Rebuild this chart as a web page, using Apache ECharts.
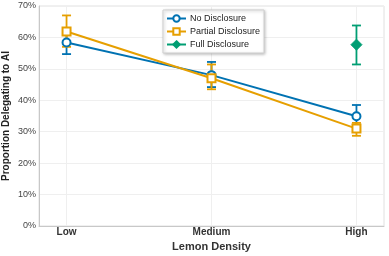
<!DOCTYPE html>
<html><head><meta charset="utf-8">
<script src="https://cdn.jsdelivr.net/npm/echarts@6/dist/echarts.min.js"></script>
<style>html,body{margin:0;padding:0;background:#fff}#c{width:389px;height:256px}</style>
</head><body><div id="c"></div>
<script>
const categories = ['Low', 'Medium', 'High'];
const yTicks = [0, 10, 20, 30, 40, 50, 60, 70];
const noDisc = [58.4, 48.0, 34.9];
const noDiscLo = [54.7, 44.2, 31.5];
const noDiscHi = [62.0, 52.2, 38.5];
const partial = [61.9, 47.0, 31.0];
const partialLo = [57.0, 43.5, 28.7];
const partialHi = [67.0, 51.4, 32.8];
const full = [null, null, 57.7];
const fullLo = [null, null, 51.4];
const fullHi = [null, null, 63.8];

const BLUE = '#0072B2', ORANGE = '#E69F00', GREEN = '#009E73';

function pts(vals) { return vals.map((v, i) => v == null ? null : [i, v]).filter(d => d); }
function errs(lo, hi) { return lo.map((v, i) => v == null ? null : [i, v, hi[i]]).filter(d => d); }

function errSeries(name, lo, hi, color) {
  return {
    type: 'custom', name: name + ' (CI)', z: 1,
    data: errs(lo, hi),
    renderItem: function (params, api) {
      const x = api.value(0);
      const p1 = api.coord([x, api.value(1)]);
      const p2 = api.coord([x, api.value(2)]);
      const w = 4.5;
      const st = { stroke: color, lineWidth: 1.8 };
      return { type: 'group', children: [
        { type: 'line', shape: { x1: p1[0], y1: p1[1], x2: p2[0], y2: p2[1] }, style: st },
        { type: 'line', shape: { x1: p1[0] - w, y1: p1[1], x2: p1[0] + w, y2: p1[1] }, style: st },
        { type: 'line', shape: { x1: p2[0] - w, y1: p2[1], x2: p2[0] + w, y2: p2[1] }, style: st }
      ]};
    },
    silent: true
  };
}

const chart = echarts.init(document.getElementById('c'), null, { renderer: 'canvas' });
chart.setOption({
  animation: false,
  grid: { left: 39, right: 5, top: 6, bottom: 30, show: true, borderColor: '#e0e0e0', borderWidth: 1,
          containLabel: false, outerBoundsMode: 'none' },
  xAxis: {
    type: 'value', min: -0.19, max: 2.19,
    name: 'Lemon Density', nameLocation: 'middle', nameGap: 15, nameMoveOverlap: false,
    nameTextStyle: { fontFamily: 'Liberation Sans', fontWeight: 'bold', fontSize: 11, color: '#333' },
    axisLine: { show: true, onZero: false, lineStyle: { color: '#c8c8c8', width: 1 } },
    axisTick: { show: false, customValues: [0, 1, 2] },
    axisLabel: { customValues: [0, 1, 2], formatter: v => categories[Math.round(v)], margin: 1,
      fontFamily: 'Liberation Sans', fontWeight: 'bold', fontSize: 10, color: '#333' },
    splitLine: { show: true, lineStyle: { color: '#efefef', width: 1 } }
  },
  yAxis: {
    type: 'value', min: 0, max: 70, interval: 10,
    name: 'Proportion Delegating to AI', nameLocation: 'middle', nameGap: 28, nameMoveOverlap: false,
    nameTextStyle: { fontFamily: 'Liberation Sans', fontWeight: 'bold', fontSize: 10, color: '#222' },
    axisLine: { show: true, onZero: false, lineStyle: { color: '#c8c8c8', width: 1 } },
    axisTick: { show: false },
    axisLabel: { formatter: '{value}%', margin: 3, fontFamily: 'Liberation Sans', fontSize: 9, color: '#444' },
    splitLine: { show: true, lineStyle: { color: '#efefef', width: 1 } }
  },
  legend: {
    orient: 'vertical', left: 163, top: 10,
    data: ['No Disclosure', 'Partial Disclosure', 'Full Disclosure'],
    itemWidth: 19, itemHeight: 8, itemGap: 4,
    padding: [4, 4, 4, 3],
    backgroundColor: '#fff', borderColor: '#cfcfcf', borderWidth: 1,
    shadowBlur: 3, shadowColor: 'rgba(0,0,0,0.25)', shadowOffsetX: 1, shadowOffsetY: 1,
    textStyle: { fontFamily: 'Liberation Sans', fontSize: 9, color: '#222', padding: [0, 0, 0, -1] }
  },
  series: [
    errSeries('No Disclosure', noDiscLo, noDiscHi, BLUE),
    errSeries('Partial Disclosure', partialLo, partialHi, ORANGE),
    errSeries('Full Disclosure', fullLo, fullHi, GREEN),
    { name: 'No Disclosure', type: 'line', z: 3, data: pts(noDisc), symbol: 'circle', symbolSize: 8,
      lineStyle: { color: BLUE, width: 2 }, itemStyle: { color: '#fff', borderColor: BLUE, borderWidth: 2 } },
    { name: 'Partial Disclosure', type: 'line', z: 4, data: pts(partial), symbol: 'rect', symbolSize: 8,
      lineStyle: { color: ORANGE, width: 2 }, itemStyle: { color: '#fff', borderColor: ORANGE, borderWidth: 2 } },
    { name: 'Full Disclosure', type: 'line', z: 5, data: pts(full), symbol: 'diamond', symbolSize: 11,
      lineStyle: { color: GREEN, width: 2 }, itemStyle: { color: GREEN, borderColor: GREEN, borderWidth: 1 } }
  ]
});
</script></body></html>
